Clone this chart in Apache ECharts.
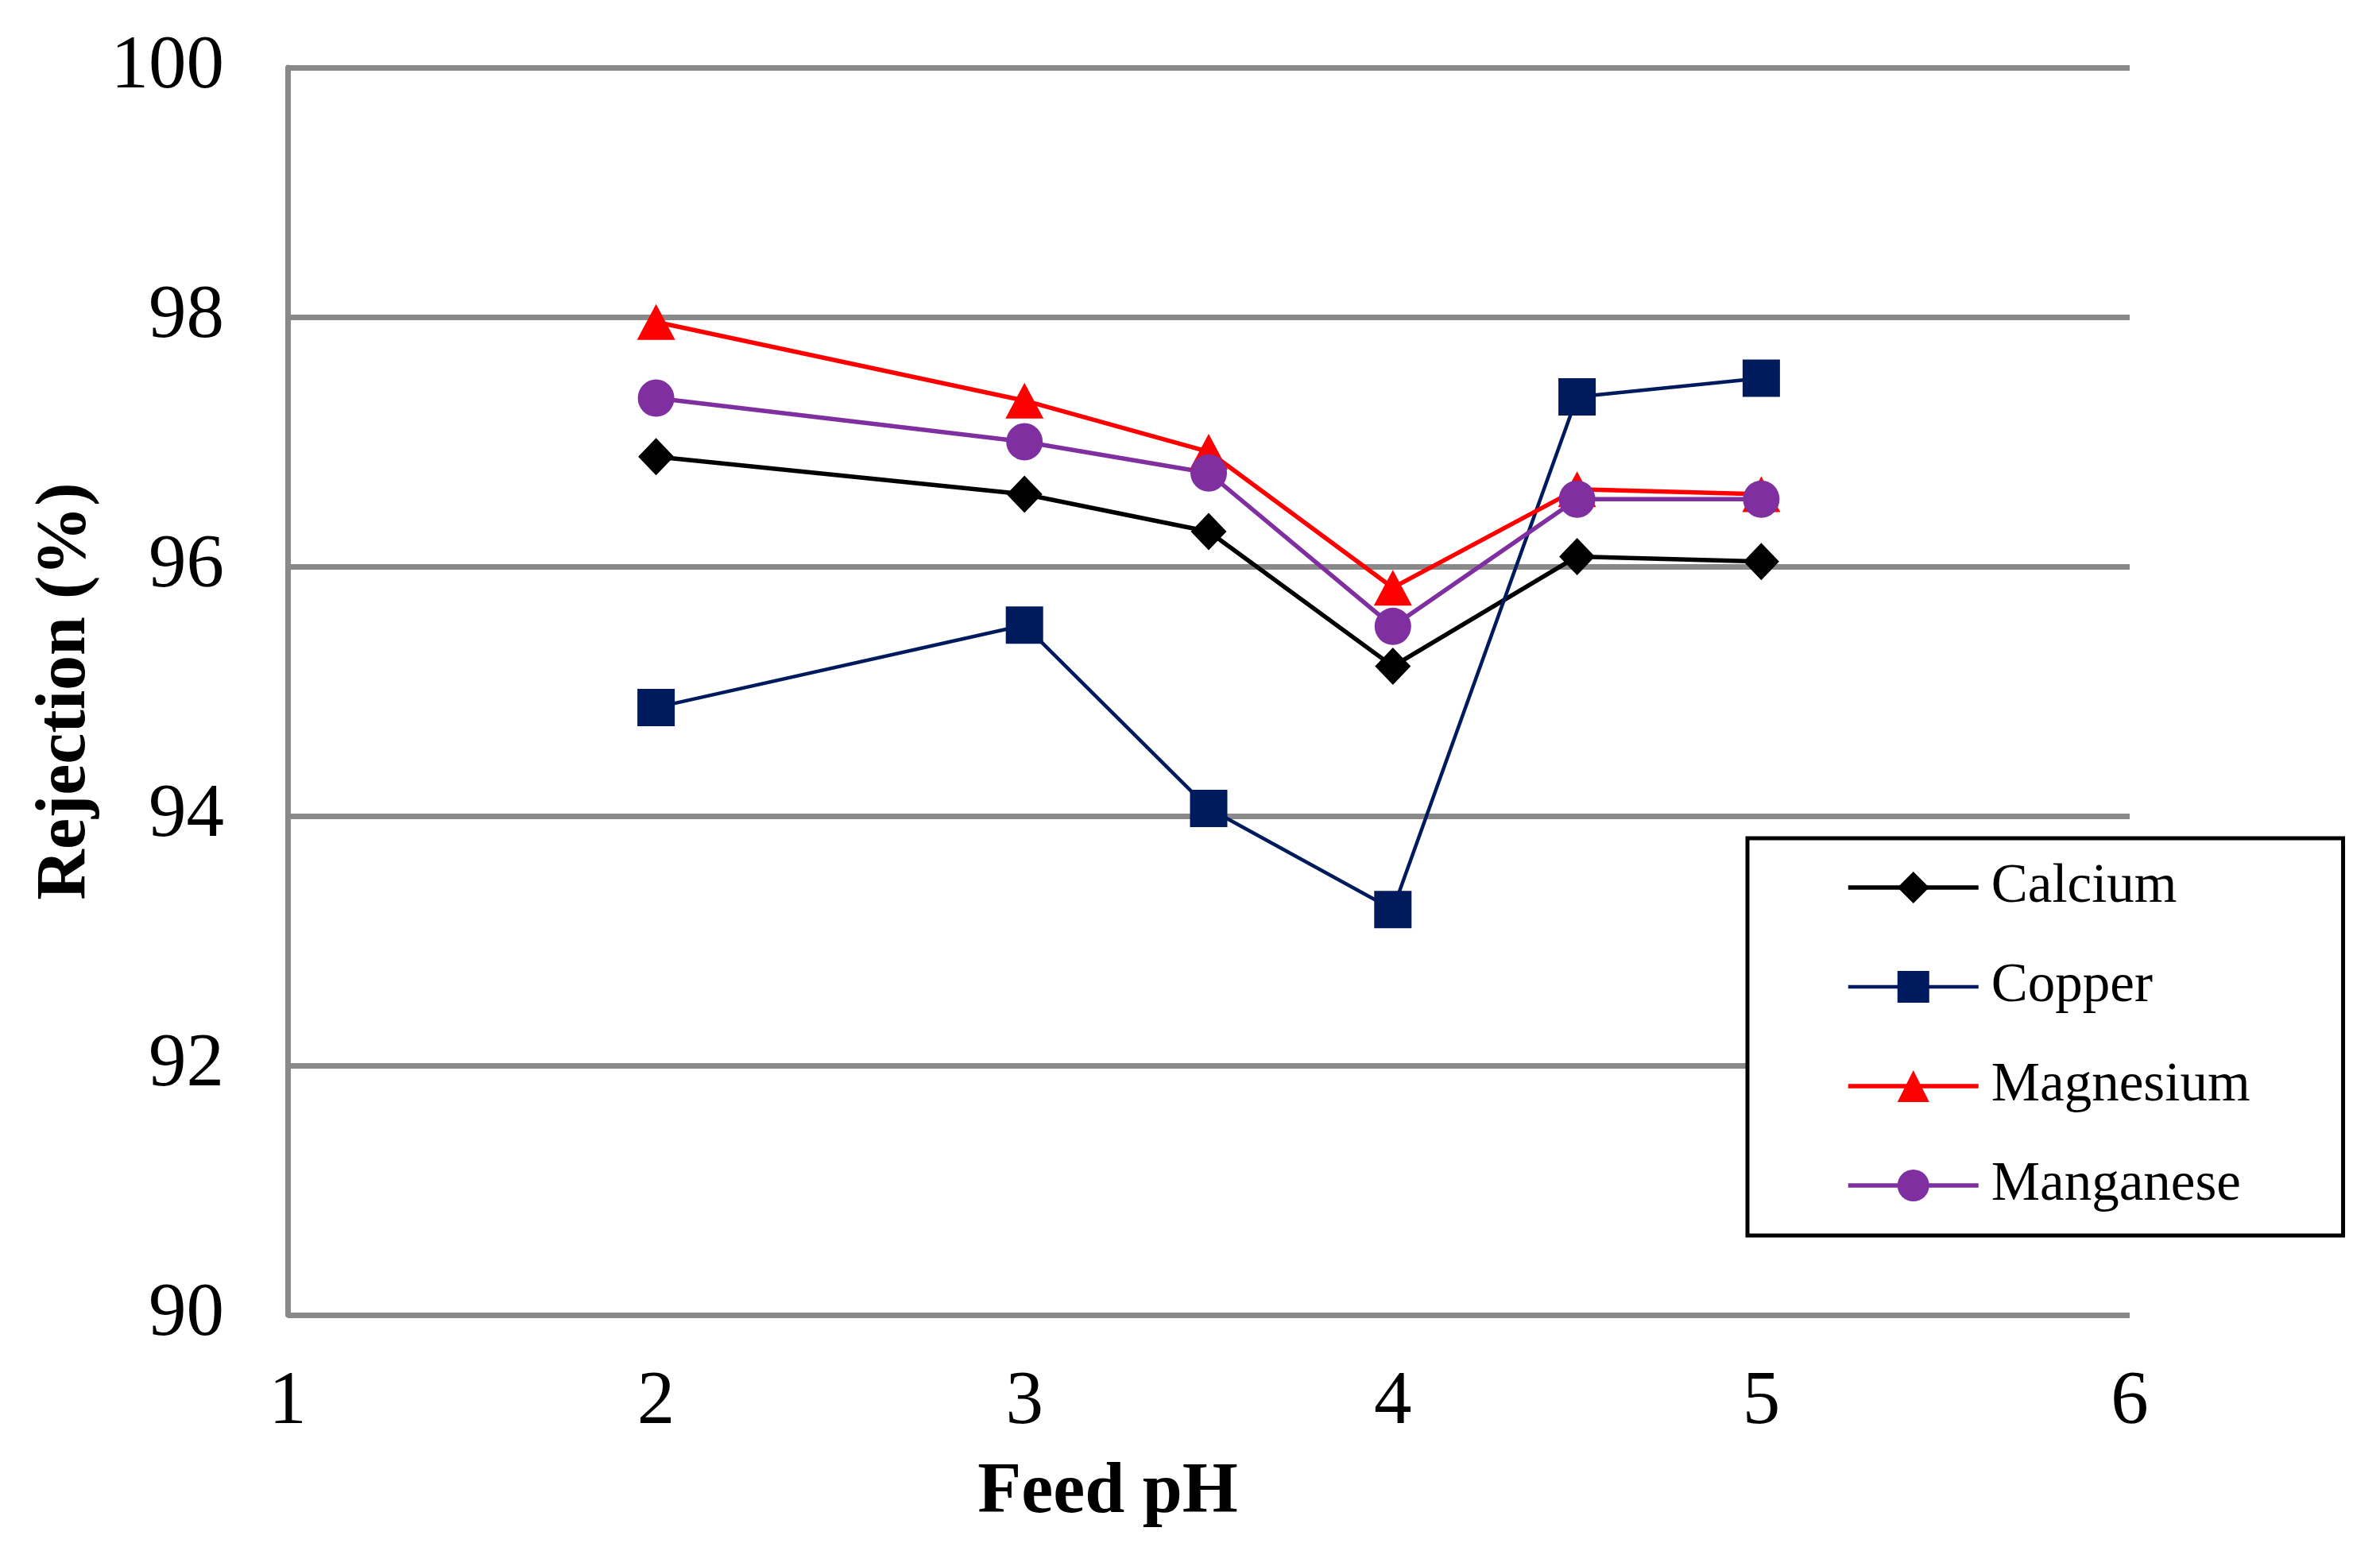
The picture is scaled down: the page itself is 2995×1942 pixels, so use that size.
<!DOCTYPE html>
<html>
<head>
<meta charset="utf-8">
<script src="https://cdn.jsdelivr.net/npm/echarts@6/dist/echarts.min.js"></script>
<style>
html,body{margin:0;padding:0;background:#fff;}
#chart{width:2995px;height:1942px;}
</style>
</head>
<body>
<div id="chart"></div>
<script>
const xValues = [2, 3, 3.5, 4, 4.5, 5];
const calcium = [96.88, 96.58, 96.28, 95.20, 96.08, 96.04];
const copper = [94.87, 95.53, 94.06, 93.25, 97.36, 97.51];
const magnesium = [97.96, 97.33, 96.92, 95.83, 96.62, 96.58];
const manganese = [97.35, 97.00, 96.75, 95.52, 96.54, 96.54];
const seriesNames = ['Calcium', 'Copper', 'Magnesium', 'Manganese'];

const FONT = '"Liberation Serif", "Times New Roman", serif';
function pairs(ys){ return xValues.map((x,i)=>[x, ys[i]]); }

const chart = echarts.init(document.getElementById('chart'), null, {renderer:'canvas', devicePixelRatio:1});
const option = {
  backgroundColor: '#ffffff',
  animation: false,
  grid: {left: 362, right: 315, top: 85, bottom: 287, containLabel: false},
  xAxis: {
    type: 'value', min: 1, max: 6, interval: 1,
    name: 'Feed pH', nameLocation: 'middle', nameGap: 180,
    nameTextStyle: {fontFamily: FONT, fontSize: 90, fontWeight: 'bold', color: '#000', padding: [0, 254, 0, 0]},
    axisLine: {show: false},
    axisTick: {show: false},
    splitLine: {show: false},
    axisLabel: {fontFamily: FONT, fontSize: 95, color: '#000', margin: 64}
  },
  yAxis: {
    type: 'value', min: 90, max: 100, interval: 2,
    name: 'Rejection (%)', nameLocation: 'middle', nameGap: 235, nameRotate: 90,
    nameTextStyle: {fontFamily: FONT, fontSize: 88, fontWeight: 'bold', color: '#000'},
    axisLine: {show: true, lineStyle: {color: '#898989', width: 7}},
    axisTick: {show: false},
    splitLine: {show: true, lineStyle: {color: '#898989', width: 7}},
    axisLabel: {fontFamily: FONT, fontSize: 95, color: '#000', margin: 80}
  },
  legend: {
    orient: 'vertical',
    left: 2199, top: 1055,
    padding: [26, 117, 27, 124],
    itemGap: 53,
    itemWidth: 164, itemHeight: 50,
    backgroundColor: '#fff',
    borderColor: '#000', borderWidth: 5,
    lineStyle: {width: 'inherit'},
    textStyle: {fontFamily: FONT, fontSize: 69, color: '#000', lineHeight: 72, padding: [0, 0, 0, 11]},
    data: seriesNames
  },
  series: [
    {name: seriesNames[0], type: 'line', data: pairs(calcium), symbol: 'diamond', symbolSize: [45, 47],
     lineStyle: {color: '#000000', width: 5.5}, itemStyle: {color: '#000000'}},
    {name: seriesNames[1], type: 'line', data: pairs(copper), symbol: 'rect', symbolSize: [47, 47],
     lineStyle: {color: '#001a5e', width: 4.5}, itemStyle: {color: '#001a5e'}},
    {name: seriesNames[2], type: 'line', data: pairs(magnesium), symbol: 'triangle', symbolSize: [48, 45],
     lineStyle: {color: '#ff0000', width: 5.5}, itemStyle: {color: '#ff0000'}},
    {name: seriesNames[3], type: 'line', data: pairs(manganese), symbol: 'circle', symbolSize: [46, 47],
     lineStyle: {color: '#7f2fa0', width: 5.5}, itemStyle: {color: '#7f2fa0'}}
  ]
};
chart.setOption(option);
</script>
</body>
</html>
